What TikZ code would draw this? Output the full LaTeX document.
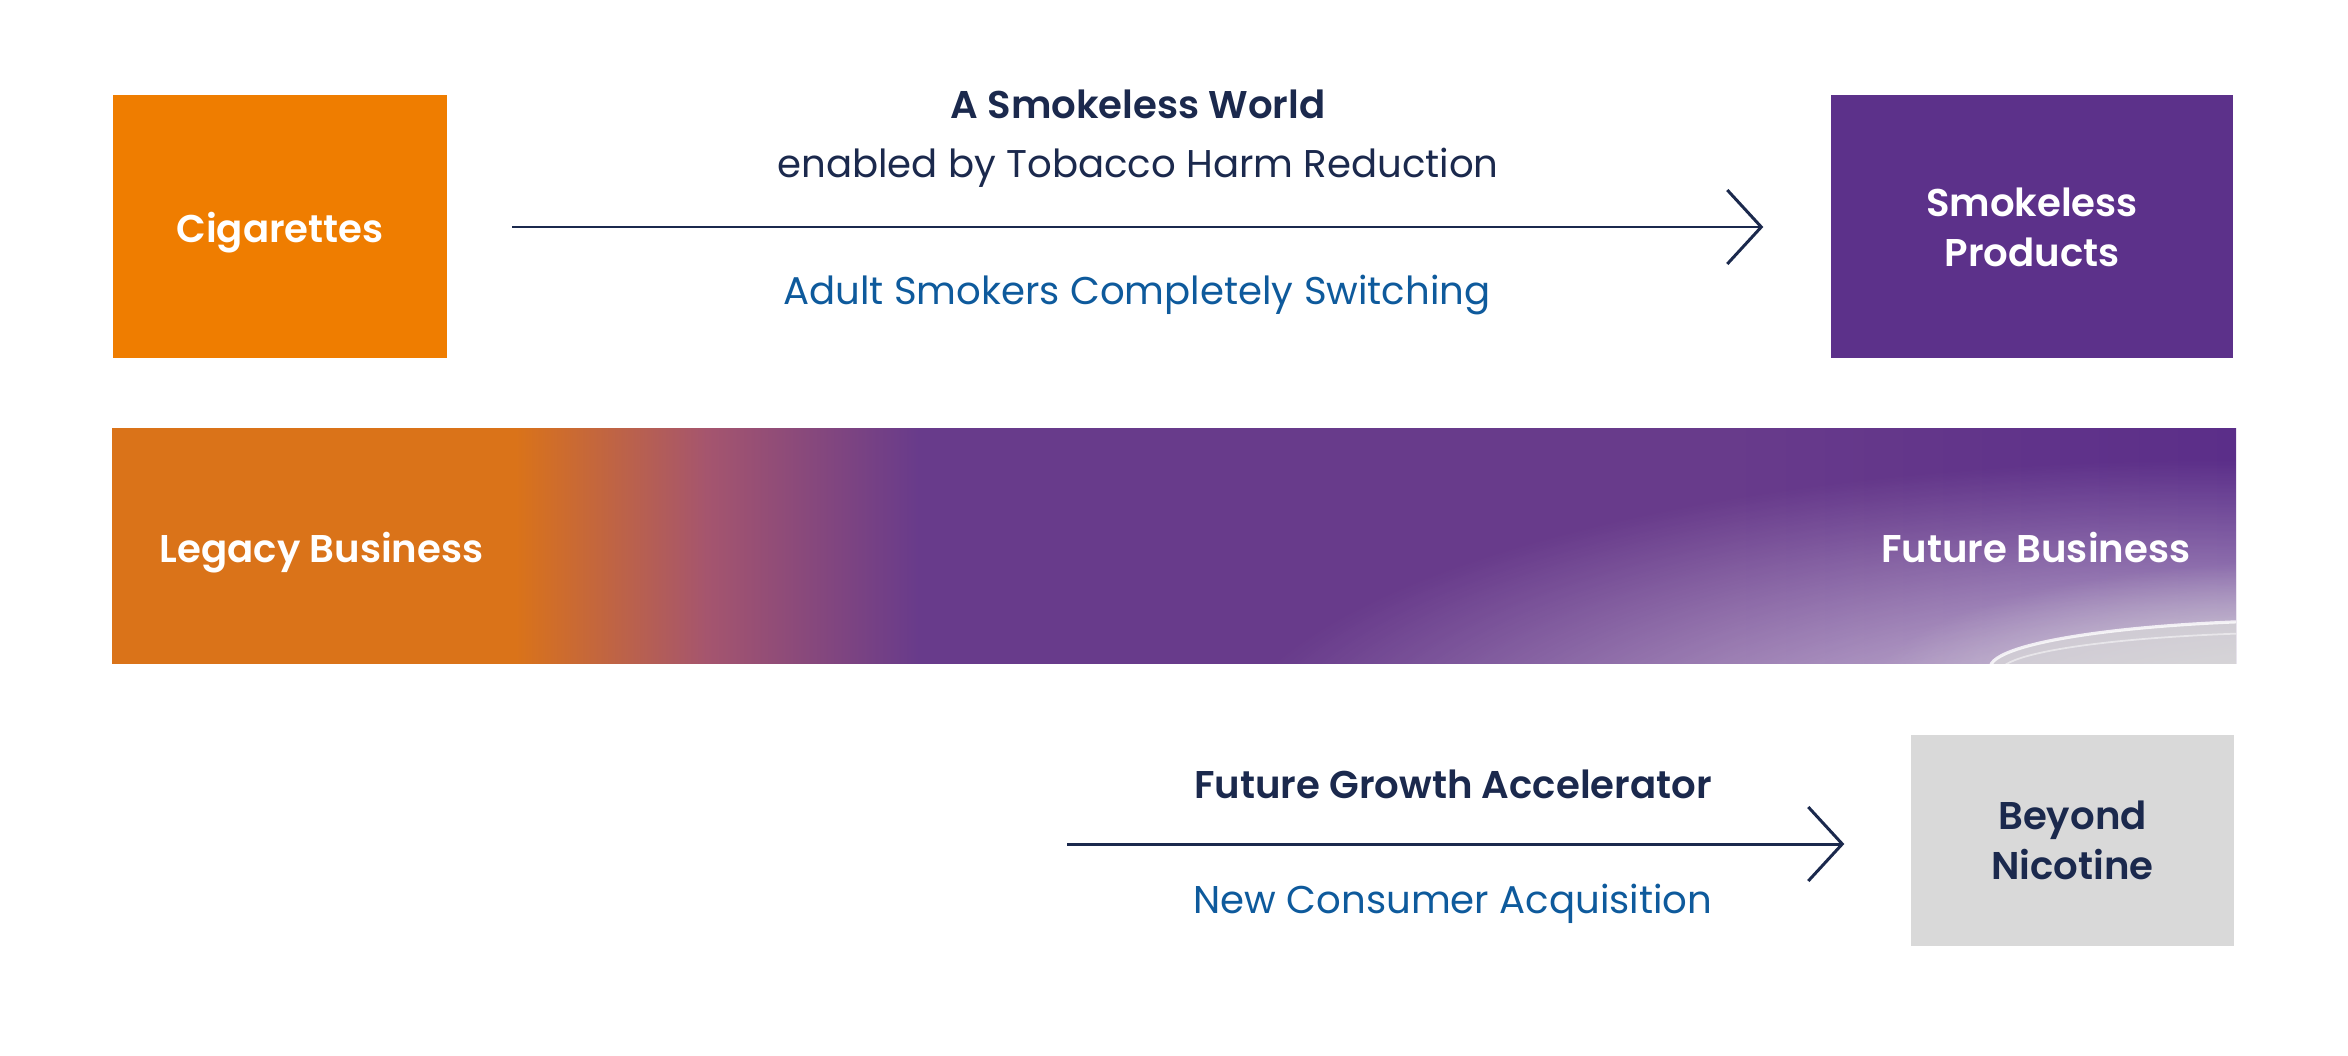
\documentclass[tikz,border=0pt]{standalone}
\usepackage{fontspec}
\setmainfont{Poppins}[BoldFont={Poppins SemiBold}]
\usetikzlibrary{arrows.meta,fadings}
\definecolor{pm_orange}{RGB}{239,125,0}
\definecolor{pm_purple}{RGB}{92,49,138}
\definecolor{pm_grey}{RGB}{217,217,217}
\definecolor{pm_navy}{RGB}{27,41,77}
\definecolor{pm_blue}{RGB}{14,90,156}
\definecolor{bar_orange}{RGB}{218,115,25}
\definecolor{bar_mauve}{RGB}{165,85,110}
\definecolor{bar_purple}{RGB}{104,59,139}
\definecolor{bar_dark}{RGB}{91,46,137}
\newcommand{\txtsize}{\fontsize{11}{14.2}\selectfont}
\pgfdeclarehorizontalshading{bizbar}{100bp}{color(0bp)=(bar_orange);
  color(25bp)=(bar_orange); color(34.5bp)=(bar_orange); color(39bp)=(bar_mauve);
  color(44bp)=(bar_purple); color(63bp)=(bar_purple); color(75bp)=(bar_dark);
  color(100bp)=(bar_dark)}
\tikzfading[name=glow, inner color=transparent!0, outer color=transparent!100]
\tikzstyle{box}=[rectangle,inner sep=0pt,align=center,font=\txtsize\bfseries]
\tikzstyle{ob}=[box,fill=pm_orange,text=white,text depth=0pt,minimum width=33.4mm,minimum height=26.3mm]
\tikzstyle{pb}=[box,fill=pm_purple,text=white,minimum width=40.2mm,minimum height=26.3mm]
\tikzstyle{gb}=[box,fill=pm_grey,text=pm_navy,minimum width=32.3mm,minimum height=21.1mm]
\tikzstyle{ht}=[inner sep=0pt,text=pm_navy,font=\txtsize\bfseries]
\tikzstyle{st}=[inner sep=0pt,text=pm_navy,font=\txtsize]
\tikzstyle{bt}=[inner sep=0pt,text=pm_blue,font=\txtsize]
\tikzstyle{wt}=[inner sep=0pt,text=white,font=\txtsize\bfseries]
\tikzstyle{arr}=[draw=pm_navy,line width=0.85pt,-{Straight Barb[length=3.4mm,width=7.4mm]}]
\begin{document}
\begin{tikzpicture}[x=0.1mm, y=-0.1mm]
    \useasboundingbox (0,0) rectangle (2348,1056);
            % top row
            \node [style=ob] (0) at (280,227) {Cigarettes};
            \node [style=pb] (1) at (2032,227) {Smokeless\\Products};
            \coordinate (2) at (512,227);
            \draw [style=arr, shorten >=6.7mm] (2) to (2 -| 1.west);
            \node [style=ht, anchor=base] (3) at (1138,119) {A Smokeless World};
            \node [style=st, anchor=base] (4) at (1138,178) {enabled by Tobacco Harm Reduction};
            \node [style=bt, anchor=base] (5) at (1137,305) {Adult Smokers Completely Switching};
            % middle bar
            \shade [shading=bizbar] (112,429) rectangle (2236,663);
            \begin{scope}
                \clip (112,429) rectangle (2236,663);
                \fill [white, fill opacity=0.85, path fading=glow] (2220,760) ellipse (1000 and 300);
                \fill [pm_grey, path fading=glow] (2330,690) ellipse (460 and 130);
                \fill [pm_grey, fill opacity=0.7] (2330,668) ellipse (340 and 48);
                \draw [white, opacity=0.8, line width=0.9pt] (2330,668) ellipse (340 and 48);
                \draw [white, opacity=0.5, line width=0.5pt] (2330,672) ellipse (330 and 40);
            \end{scope}
            \node [style=wt, anchor=base west] (6) at (159,562) {Legacy Business};
            \node [style=wt, anchor=base east] (7) at (2191,562) {Future Business};
            % bottom row
            \node [style=gb] (8) at (2072.5,840.5) {Beyond\\Nicotine};
            \coordinate (9) at (1067,844);
            \draw [style=arr, shorten >=6.6mm] (9) to (9 -| 8.west);
            \node [style=ht, anchor=base] (10) at (1453,798) {Future Growth Accelerator};
            \node [style=bt, anchor=base] (11) at (1453,913) {New Consumer Acquisition};
    \end{tikzpicture}
\end{document}
